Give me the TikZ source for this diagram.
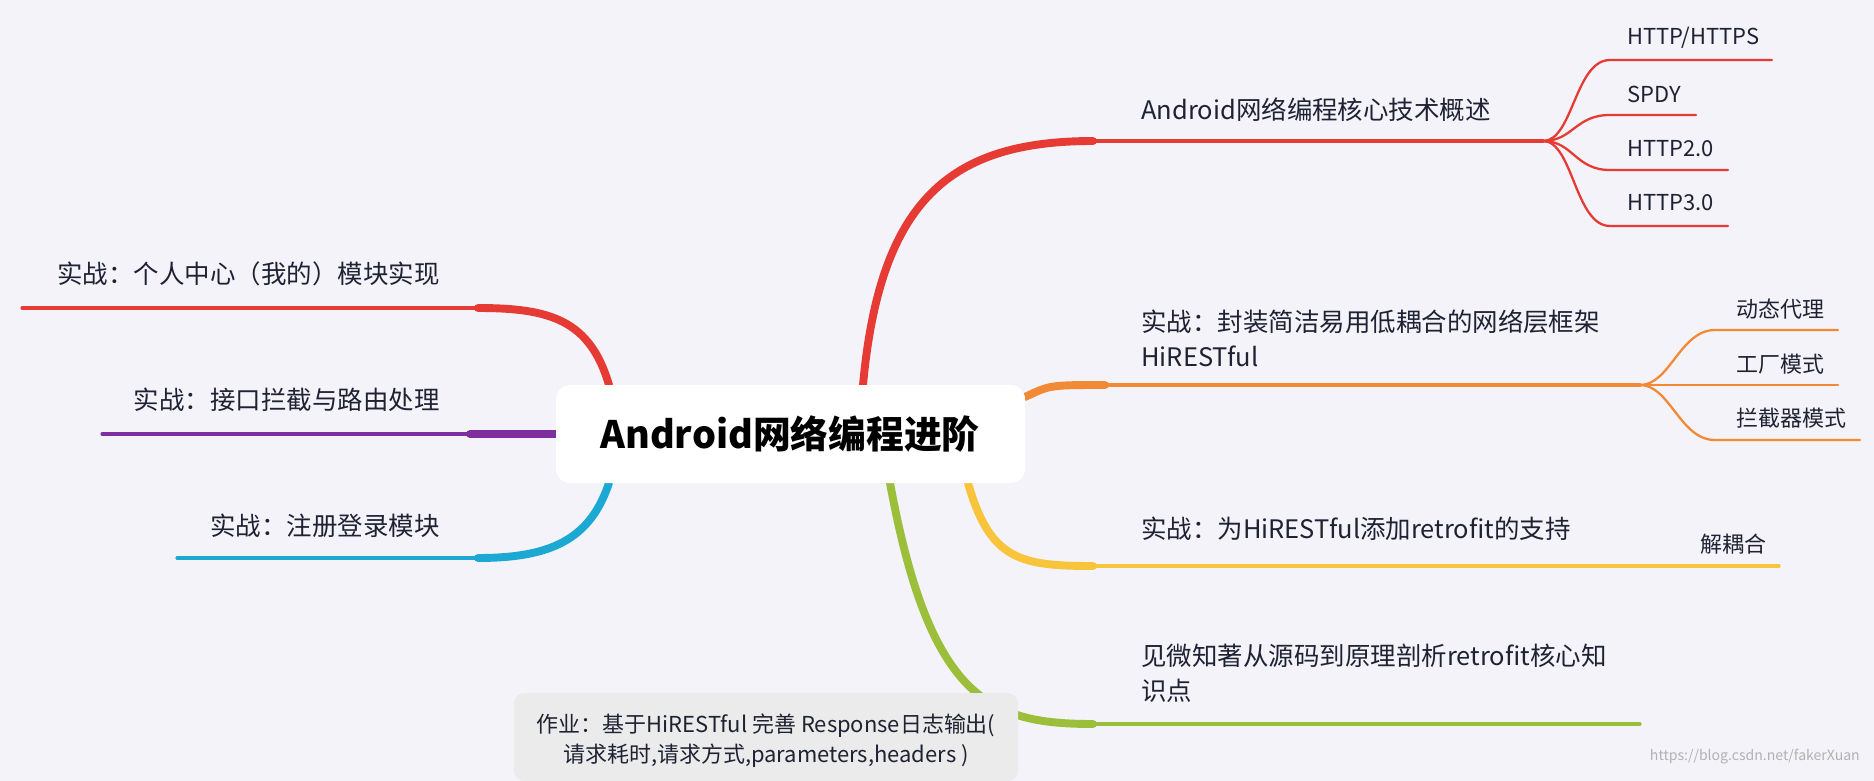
\documentclass[tikz,border=0pt]{standalone}
\usepackage{fontspec}
\usetikzlibrary{calc}
\setmainfont{Noto Sans CJK SC}
\definecolor{bg}{HTML}{F3F3F9}
\definecolor{cred}{HTML}{E63B35}
\definecolor{corange}{HTML}{F28A35}
\definecolor{cyellow}{HTML}{F8C43C}
\definecolor{cgreen}{HTML}{9BBE3B}
\definecolor{cblue}{HTML}{1BA8D2}
\definecolor{cpurple}{HTML}{7D2F9E}
\definecolor{ctext}{HTML}{1F2233}
\begin{document}
\begin{tikzpicture}[x=0.02cm,y=-0.02cm,
  lbl/.style={anchor=west,inner sep=0pt,text=ctext,font=\fontsize{14.5pt}{20pt}\selectfont,align=left},
  sub/.style={anchor=west,inner sep=0pt,text=ctext,font=\fontsize{12.5pt}{15pt}\selectfont},
  thick1/.style={line width=4.5pt,line cap=round},
  thin1/.style={line width=1.8pt,line cap=round},
  thin2/.style={line width=1.3pt,line cap=round}]
\fill[bg] (0,0) rectangle (1874,781);
\useasboundingbox (0,0) rectangle (1874,781);
% coordinates
\coordinate (rA) at (863,385); \coordinate (rB) at (1093,141); \coordinate (rF) at (1543,141);
\coordinate (oA) at (1025,397); \coordinate (oB) at (1105,385); \coordinate (oF) at (1640,385);
\coordinate (yA) at (968,483); \coordinate (yB) at (1093,566); \coordinate (yE) at (1779,566);
\coordinate (gA) at (890,483); \coordinate (gB) at (1093,724); \coordinate (gE) at (1640,724);
\coordinate (lA) at (609,385); \coordinate (lB) at (478,308); \coordinate (lE) at (22,308);
\coordinate (bA) at (609,483); \coordinate (bB) at (478,558); \coordinate (bE) at (177,558);
\coordinate (pA) at (556,434); \coordinate (pB) at (470,434); \coordinate (pE) at (102,434);
% right red
\draw[cred,thick1] (rA) .. controls (880,200) and (950,141) .. (rB);
\draw[cred,thin1] (rB) -- (rF);
\coordinate (h1) at (1610,60); \coordinate (h1e) at (1772,60);
\coordinate (h2) at (1610,115); \coordinate (h2e) at (1696,115);
\coordinate (h3) at (1610,170); \coordinate (h3e) at (1728,170);
\coordinate (h4) at (1610,226); \coordinate (h4e) at (1728,226);
\foreach \a/\b in {h1/h1e,h2/h2e,h3/h3e,h4/h4e}{
  \draw[cred,thin2] (rF) .. controls +(30,0) and ($(\a)+(-35,0)$) .. (\a) -- (\b);}
% orange
\draw[corange,thick1] (oA) .. controls (1050,385) .. (oB);
\draw[corange,thin1] (oB) -- (oF);
\coordinate (d1) at (1715,330); \coordinate (d1e) at (1838,330);
\coordinate (d2) at (1715,385); \coordinate (d2e) at (1838,385);
\coordinate (d3) at (1715,440); \coordinate (d3e) at (1860,440);
\foreach \a/\b in {d1/d1e,d2/d2e,d3/d3e}{
  \draw[corange,thin2] (oF) .. controls +(30,0) and ($(\a)+(-35,0)$) .. (\a) -- (\b);}
% yellow
\draw[cyellow,thick1] (yA) .. controls (990,560) and (1020,566) .. (yB);
\draw[cyellow,thin1] (yB) -- (yE);
% green
\draw[cgreen,thick1] (gA) .. controls (930,700) and (990,724) .. (gB);
\draw[cgreen,thin1] (gB) -- (gE);
% left red
\draw[cred,thick1] (lA) .. controls (590,320) and (550,308) .. (lB);
\draw[cred,thin1] (lB) -- (lE);
% blue
\draw[cblue,thick1] (bA) .. controls (590,540) and (550,558) .. (bB);
\draw[cblue,thin1] (bB) -- (bE);
% purple
\draw[cpurple,thick1] (pA) -- (pB);
\draw[cpurple,thin1] (pB) -- (pE);
% center
\fill[white,rounded corners=8pt] (556,385) rectangle (1025,483);
\node[font=\fontsize{21.5pt}{26pt}\selectfont\bfseries,text=black] (center) at (790,434) {Android网络编程进阶};
% labels
\node[lbl] (t1) at (1141,110) {Android网络编程核心技术概述};
\node[lbl] (t2) at (1141,338) {实战：封装简洁易用低耦合的网络层框架\\HiRESTful};
\node[lbl] (t3) at (1141,529) {实战：为HiRESTful添加retrofit的支持};
\node[lbl] (t4) at (1141,673) {见微知著从源码到原理剖析retrofit核心知\\识点};
\node[lbl,anchor=east] (t5) at (440,274) {实战：个人中心（我的）模块实现};
\node[lbl,anchor=east] (t6) at (440,400) {实战：接口拦截与路由处理};
\node[lbl,anchor=east] (t7) at (440,526) {实战：注册登录模块};
\node[sub] (s1) at (1627,38) {HTTP/HTTPS};
\node[sub] (s2) at (1627,94) {SPDY};
\node[sub] (s3) at (1627,149) {HTTP2.0};
\node[sub] (s4) at (1627,203) {HTTP3.0};
\node[sub] (s5) at (1736,309) {动态代理};
\node[sub] (s6) at (1736,364) {工厂模式};
\node[sub] (s7) at (1736,418) {拦截器模式};
\node[sub] (s8) at (1700,544) {解耦合};
% note
\fill[black!8,rounded corners=6pt] (514,693) rectangle (1018,781);
\node[text=ctext,font=\fontsize{12.5pt}{17pt}\selectfont,align=center] (note) at (766,741) {作业：基于HiRESTful 完善 Response日志输出(\\请求耗时,请求方式,parameters,headers )};
\node[text=black!30,font=\fontsize{8pt}{10pt}\selectfont,anchor=east] (wm) at (1866,757) {https://blog.csdn.net/fakerXuan};
\end{tikzpicture}
\end{document}
